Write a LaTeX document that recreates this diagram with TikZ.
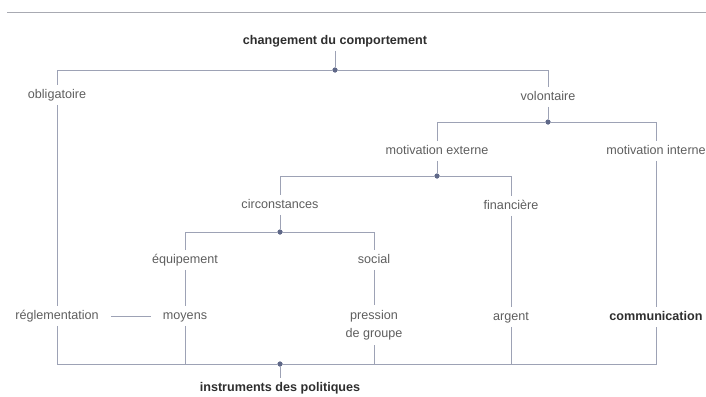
\documentclass[tikz,border=0pt]{standalone}
\usepackage{fontspec}
\setmainfont{Liberation Sans}
\definecolor{linec}{HTML}{9DA2B5}
\definecolor{dotc}{HTML}{5F6888}
\definecolor{txt}{HTML}{5E5E5E}
\definecolor{btxt}{HTML}{2E2E2E}
\definecolor{rulec}{HTML}{A8AAB2}
\begin{document}
\begin{tikzpicture}[x=1pt,y=-1pt,
  base/.style={text=txt,font=\fontsize{12.6}{15}\selectfont,inner xsep=2pt,inner ysep=4pt,align=center},
  lbl/.style={base,text height=9pt,text depth=2.5pt},
  blbl/.style={lbl,text=btxt,font=\fontsize{12.6}{15}\selectfont\bfseries},
  conn/.style={draw=linec,line width=0.9pt},
  jdot/.style={circle,fill=dotc,inner sep=0pt,minimum size=5pt}]
\useasboundingbox (0,0) rectangle (706,396);
\draw[rulec,line width=1pt] (7,12.5) -- (706,12.5);
% nodes
\node[blbl] (chg) at (335,41) {changement du comportement};
\node[jdot] (d1) at (335,70) {};
\node[lbl] (oblig) at (57,95) {obligatoire};
\node[lbl] (volont) at (548,97) {volontaire};
\node[jdot] (d2) at (548,122) {};
\node[lbl] (mext) at (437,151) {motivation externe};
\node[lbl] (mint) at (656,151) {motivation interne};
\node[jdot] (d3) at (437,176) {};
\node[lbl] (circ) at (280,205) {circonstances};
\node[lbl] (fin) at (511,206) {financière};
\node[jdot] (d4) at (280,232) {};
\node[lbl] (equip) at (185,260) {équipement};
\node[lbl] (social) at (374,260) {social};
\node[lbl] (regl) at (57,316) {réglementation};
\node[lbl] (moyens) at (185,316) {moyens};
\node[base,inner ysep=5pt] (press) at (374,325) {pression\\[3pt]de groupe};
\node[lbl] (argent) at (511,317) {argent};
\node[blbl] (comm) at (656,317) {communication};
\node[jdot] (d5) at (280,364) {};
\node[blbl] (instr) at (280,388) {instruments des politiques};
% connectors
\draw[conn] (chg.south) -- (d1);
\draw[conn] (d1) -| (oblig.north);
\draw[conn] (d1) -| (volont.north);
\draw[conn] (volont.south) -- (d2);
\draw[conn] (d2) -| (mext.north);
\draw[conn] (d2) -| (mint.north);
\draw[conn] (mext.south) -- (d3);
\draw[conn] (d3) -| (circ.north);
\draw[conn] (d3) -| (fin.north);
\draw[conn] (circ.south) -- (d4);
\draw[conn] (d4) -| (equip.north);
\draw[conn] (d4) -| (social.north);
\draw[conn] (oblig.south) -- (regl.north);
\draw[conn] (equip.south) -- (moyens.north);
\draw[conn] (social.south) -- (press.north);
\draw[conn] (fin.south) -- (argent.north);
\draw[conn] (mint.south) -- (comm.north);
\draw[conn,shorten <=10pt,shorten >=10pt] (regl.east) -- (moyens.west);
\draw[conn] (regl.south) |- (d5);
\draw[conn] (d5) -| (comm.south);
\draw[conn] (moyens.south) -- (moyens.south |- d5);
\draw[conn] (press.south) -- (press.south |- d5);
\draw[conn] (argent.south) -- (argent.south |- d5);
\draw[conn] (d5) -- (instr.north);
\node[jdot] at (d1) {};
\node[jdot] at (d2) {};
\node[jdot] at (d3) {};
\node[jdot] at (d4) {};
\node[jdot] at (d5) {};
\end{tikzpicture}
\end{document}
